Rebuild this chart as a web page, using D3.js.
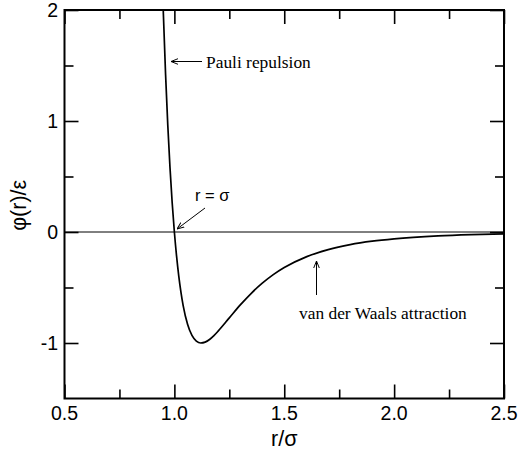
<!DOCTYPE html>
<html>
<head>
<meta charset="utf-8">
<script src="https://cdn.jsdelivr.net/npm/d3@7"></script>
<style>
  body { margin: 0; background: #fff; }
  svg { display: block; }
</style>
</head>
<body>
<svg id="chart" width="518" height="459"></svg>
<script>
// values (r/sigma, phi/epsilon)
const rValues = [0.945, 0.95, 0.96, 0.97, 0.98, 0.99, 1.00, 1.01, 1.02, 1.03, 1.04, 1.06, 1.08,
    1.10, 1.12, 1.14, 1.16, 1.18, 1.20, 1.25, 1.30, 1.35, 1.40, 1.45, 1.50, 1.60, 1.70,
    1.80, 1.90, 2.00, 2.20, 2.35, 2.50];
const phiValues = [2.27, 1.961, 1.418, 0.963, 0.582, 0.264, 0, -0.218, -0.398, -0.544, -0.663, -0.832, -0.932,
    -0.983, -1.000, -0.992, -0.968, -0.933, -0.891, -0.774, -0.657, -0.552, -0.461, -0.384, -0.320, -0.224, -0.159,
    -0.114, -0.083, -0.0615, -0.035, -0.0236, -0.0163];

const xTicks = [0.5, 1.0, 1.5, 2.0, 2.5];
const xMinor = [0.75, 1.25, 1.75, 2.25];
const yTicks = [-1, 0, 1, 2];
const yMinor = [-0.5, 0.5, 1.5];

const svg = d3.select('#chart');
const plotLeft = 64.5, plotRight = 504, plotTop = 10, plotBottom = 398.5;

const x = d3.scaleLinear().domain([0.5, 2.5]).range([plotLeft, plotRight]);
const y = d3.scaleLinear().domain([-1.5, 2]).range([plotBottom, plotTop]);

const data = rValues.map((r, i) => ({r: r, v: phiValues[i]}));

const defs = svg.append('defs');
defs.append('clipPath').attr('id', 'clip')
    .append('rect')
    .attr('x', plotLeft).attr('y', plotTop)
    .attr('width', plotRight - plotLeft).attr('height', plotBottom - plotTop);

// zero line
svg.append('line')
    .attr('x1', x(0.5)).attr('x2', x(2.5))
    .attr('y1', y(0)).attr('y2', y(0))
    .attr('stroke', '#000').attr('stroke-width', 1);

// the potential curve
const line = d3.line()
    .x(d => x(d.r))
    .y(d => y(d.v))
    .curve(d3.curveMonotoneX);

svg.append('path')
    .datum(data)
    .attr('clip-path', 'url(#clip)')
    .attr('fill', 'none')
    .attr('stroke', '#000')
    .attr('stroke-width', 1.7)
    .attr('d', line);

// axes, ticks pointing inward on all four sides
function tickAxis(axisFn, scale, major, minor, transform) {
    const gMaj = svg.append('g').attr('transform', transform)
        .call(axisFn(scale).tickValues(major).tickSizeInner(-14).tickSizeOuter(0).tickFormat(''));
    const gMin = svg.append('g').attr('transform', transform)
        .call(axisFn(scale).tickValues(minor).tickSizeInner(-9).tickSizeOuter(0).tickFormat(''));
    [gMaj, gMin].forEach(g => {
        g.select('.domain').remove();
        g.selectAll('line').attr('stroke', '#000').attr('stroke-width', 1.6);
    });
}
tickAxis(d3.axisBottom, x, xTicks, xMinor, `translate(0,${plotBottom})`);
tickAxis(d3.axisTop, x, xTicks, xMinor, `translate(0,${plotTop})`);
tickAxis(d3.axisLeft, y, yTicks, yMinor, `translate(${plotLeft},0)`);
tickAxis(d3.axisRight, y, yTicks, yMinor, `translate(${plotRight},0)`);

// frame
svg.append('rect')
    .attr('x', plotLeft).attr('y', plotTop)
    .attr('width', plotRight - plotLeft).attr('height', plotBottom - plotTop)
    .attr('fill', 'none').attr('stroke', '#000').attr('stroke-width', 2);

// tick labels
const sans = 'Liberation Sans, Arial, sans-serif';
svg.append('g').selectAll('text')
    .data(xTicks).join('text')
    .attr('x', d => x(d)).attr('y', 420)
    .attr('text-anchor', 'middle')
    .attr('font-family', sans).attr('font-size', 19.5)
    .text(d => d3.format('.1f')(d));

svg.append('g').selectAll('text')
    .data(yTicks).join('text')
    .attr('x', 58).attr('y', d => y(d) + 7)
    .attr('text-anchor', 'end')
    .attr('font-family', sans).attr('font-size', 19.5)
    .text(d => d);

// axis titles
svg.append('text')
    .attr('x', x(1.5)).attr('y', 446)
    .attr('text-anchor', 'middle')
    .attr('font-family', sans).attr('font-size', 21.5)
    .text('r/σ');

svg.append('text')
    .attr('transform', `translate(26,${y(0.24)}) rotate(-90)`)
    .attr('text-anchor', 'middle')
    .attr('font-family', sans).attr('font-size', 21.5)
    .text('φ(r)/ε');

// annotations
defs.append('marker')
    .attr('id', 'head')
    .attr('viewBox', '0 0 10 10')
    .attr('refX', 10).attr('refY', 5)
    .attr('markerWidth', 7).attr('markerHeight', 7)
    .attr('markerUnits', 'userSpaceOnUse')
    .attr('orient', 'auto')
    .append('path')
    .attr('d', 'M0,1 L10,5 L0,9')
    .attr('fill', 'none').attr('stroke', '#000').attr('stroke-width', 1.4);

function arrow(x1, y1, x2, y2) {
    svg.append('line')
        .attr('x1', x1).attr('y1', y1).attr('x2', x2).attr('y2', y2)
        .attr('stroke', '#000').attr('stroke-width', 1)
        .attr('marker-end', 'url(#head)');
}

const serif = 'Liberation Serif, Times New Roman, serif';
arrow(202, 61.5, 171, 61.5);
svg.append('text')
    .attr('x', 206).attr('y', 67.5)
    .attr('font-family', serif).attr('font-size', 17.4)
    .text('Pauli repulsion');

arrow(205, 208, 177, 229);
svg.append('text')
    .attr('x', 195).attr('y', 201)
    .attr('font-family', sans).attr('font-size', 16.5)
    .text('r = σ');

arrow(316.5, 295, 316.5, 261);
svg.append('text')
    .attr('x', 299).attr('y', 318.5)
    .attr('font-family', serif).attr('font-size', 17.4)
    .text('van der Waals attraction');
</script>
</body>
</html>
